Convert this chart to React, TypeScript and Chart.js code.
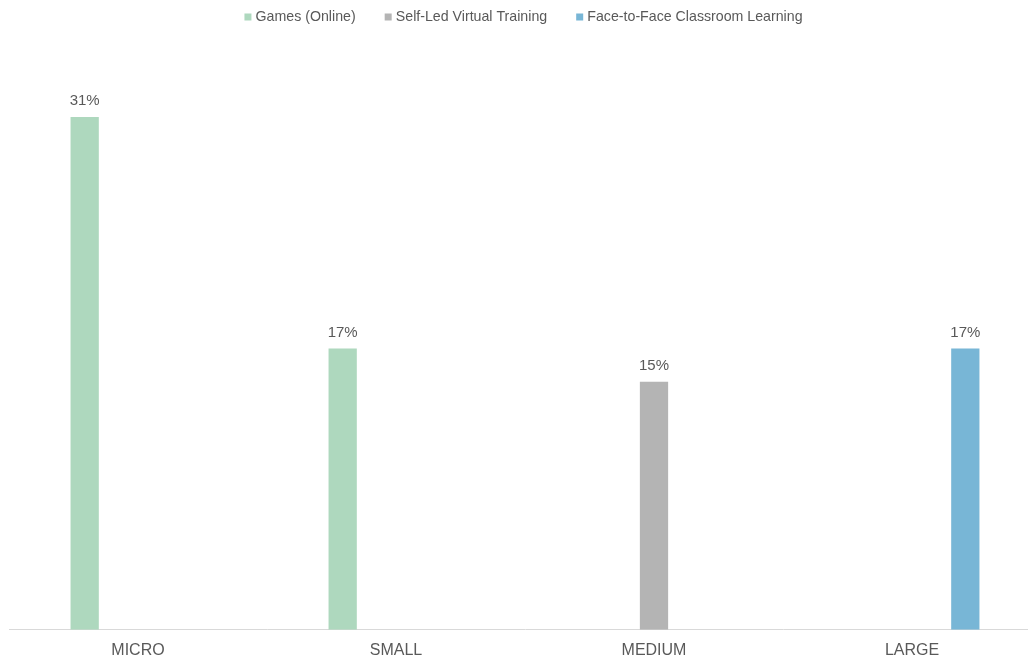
import React, { useEffect, useRef } from "react";
import { Chart, registerables } from "chart.js";

Chart.register(...registerables);

const categories = ["MICRO", "SMALL", "MEDIUM", "LARGE"];
const seriesNames = ["Games (Online)", "Self-Led Virtual Training", "Face-to-Face Classroom Learning"];
const gamesOnline = [31, 17, null, null];
const selfLedVirtual = [null, null, 15, null];
const faceToFace = [null, null, null, 17];
const seriesColors = ["#AED8BE", "#B4B4B4", "#78B6D6"];
const yMax = 36;

const FONT = "'Liberation Sans', Arial, Helvetica, sans-serif";
const TEXT = "#595959";

const valueLabels = {
  id: "valueLabels",
  afterDatasetsDraw(chart: any) {
    const ctx = chart.ctx;
    ctx.save();
    ctx.font = `15px ${FONT}`;
    ctx.fillStyle = TEXT;
    ctx.textAlign = "center";
    ctx.textBaseline = "alphabetic";
    chart.data.datasets.forEach((ds: any, di: number) => {
      const meta = chart.getDatasetMeta(di);
      meta.data.forEach((el: any, i: number) => {
        const v = ds.data[i];
        if (v === null || v === undefined) return;
        ctx.fillText(`${v}%`, el.x, el.y - 11.5);
      });
    });
    ctx.restore();
  },
};

export default function App() {
  const ref = useRef<HTMLCanvasElement | null>(null);
  useEffect(() => {
    if (!ref.current) return;
    const chart = new Chart(ref.current, {
      type: "bar",
      data: {
        labels: categories,
        datasets: [
          { label: seriesNames[0], data: gamesOnline, backgroundColor: seriesColors[0], borderWidth: 0 },
          { label: seriesNames[1], data: selfLedVirtual, backgroundColor: seriesColors[1], borderWidth: 0 },
          { label: seriesNames[2], data: faceToFace, backgroundColor: seriesColors[2], borderWidth: 0 },
        ],
      },
      options: {
        animation: false,
        responsive: true,
        maintainAspectRatio: false,
        layout: { padding: 0 },
        datasets: {
          bar: { categoryPercentage: 0.62, barPercentage: 0.53 },
        },
        plugins: {
          tooltip: { enabled: false },
          legend: {
            position: "top",
            labels: {
              usePointStyle: true,
              pointStyle: "rect",
              boxWidth: 1,
              boxHeight: 7,
              padding: 32,
              color: TEXT,
              font: { size: 14.2, family: FONT },
            },
          },
        },
        scales: {
          x: {
            grid: { display: false },
            border: { display: true, color: "#D9D9D9", width: 1 },
            ticks: { color: TEXT, font: { size: 16, family: FONT }, padding: 3 },
          },
          y: {
            display: false,
            min: 0,
            max: yMax,
          },
        },
      },
      plugins: [valueLabels],
    });
    return () => chart.destroy();
  }, []);

  return (
    <div style={{ position: "fixed", left: 0, top: 0, width: 1028, height: 657, overflow: "hidden" }}>
      <div style={{ position: "absolute", left: 9, top: -22, width: 1032, height: 685 }}>
        <canvas ref={ref} />
      </div>
    </div>
  );
}
